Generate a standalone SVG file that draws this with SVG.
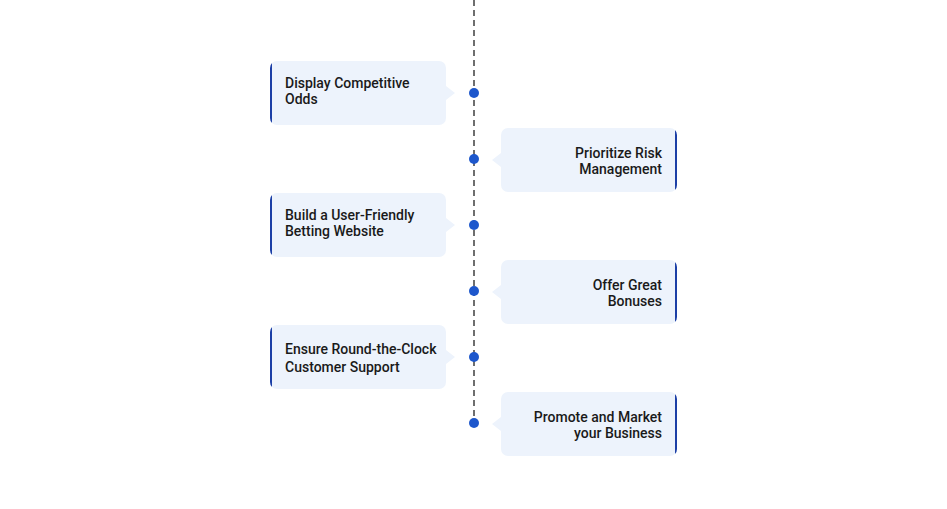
<svg xmlns="http://www.w3.org/2000/svg" width="947" height="509" viewBox="0 0 947 509">
<style>
.box{fill:#edf3fc}
.bar{fill:#1c3fa6}
.dot{fill:#1d57cc}
.t{font-family:Roboto,"Liberation Sans",sans-serif;font-size:14px;font-weight:500;fill:#1a1a1a}
.r{text-anchor:end}
</style>
<defs>
<clipPath id="cl"><rect x="0" y="0" width="176" height="64" rx="7"/></clipPath>
</defs>
<rect width="947" height="509" fill="#fff"/>
<g id="connectors">
<line x1="474" y1="0" x2="474" y2="423" stroke="#6e6e6e" stroke-width="2" stroke-dasharray="6 4"/>
</g>
<g id="n1" transform="translate(270,61)">
<rect class="box" width="176" height="64" rx="7"/>
<polygon class="box" points="176,25 185,32 176,39"/>
<rect class="bar" width="2" height="64" clip-path="url(#cl)"/>
<text class="t" x="15" y="27">Display Competitive</text>
<text class="t" x="15" y="43">Odds</text>
</g>
<g id="n2" transform="translate(501,128)">
<rect class="box" width="176" height="64" rx="7"/>
<polygon class="box" points="0,25 -9,32 0,39"/>
<rect class="bar" x="174" width="2" height="64" clip-path="url(#cl)"/>
<text class="t r" x="161" y="30">Prioritize Risk</text>
<text class="t r" x="161" y="46">Management</text>
</g>
<g id="n3" transform="translate(270,193)">
<rect class="box" width="176" height="64" rx="7"/>
<polygon class="box" points="176,25 185,32 176,39"/>
<rect class="bar" width="2" height="64" clip-path="url(#cl)"/>
<text class="t" x="15" y="27">Build a User-Friendly</text>
<text class="t" x="15" y="43">Betting Website</text>
</g>
<g id="n4" transform="translate(501,260)">
<rect class="box" width="176" height="64" rx="7"/>
<polygon class="box" points="0,25 -9,32 0,39"/>
<rect class="bar" x="174" width="2" height="64" clip-path="url(#cl)"/>
<text class="t r" x="161" y="30">Offer Great</text>
<text class="t r" x="161" y="46">Bonuses</text>
</g>
<g id="n5" transform="translate(270,325)">
<rect class="box" width="176" height="64" rx="7"/>
<polygon class="box" points="176,25 185,32 176,39"/>
<rect class="bar" width="2" height="64" clip-path="url(#cl)"/>
<text class="t" x="15" y="29">Ensure Round-the-Clock</text>
<text class="t" x="15" y="47">Customer Support</text>
</g>
<g id="n6" transform="translate(501,392)">
<rect class="box" width="176" height="64" rx="7"/>
<polygon class="box" points="0,25 -9,32 0,39"/>
<rect class="bar" x="174" width="2" height="64" clip-path="url(#cl)"/>
<text class="t r" x="161" y="30">Promote and Market</text>
<text class="t r" x="161" y="46">your Business</text>
</g>
<g id="dots">
<circle class="dot" cx="474" cy="93" r="5"/>
<circle class="dot" cx="474" cy="159" r="5"/>
<circle class="dot" cx="474" cy="225" r="5"/>
<circle class="dot" cx="474" cy="291" r="5"/>
<circle class="dot" cx="474" cy="357" r="5"/>
<circle class="dot" cx="474" cy="423" r="5"/>
</g>
</svg>
